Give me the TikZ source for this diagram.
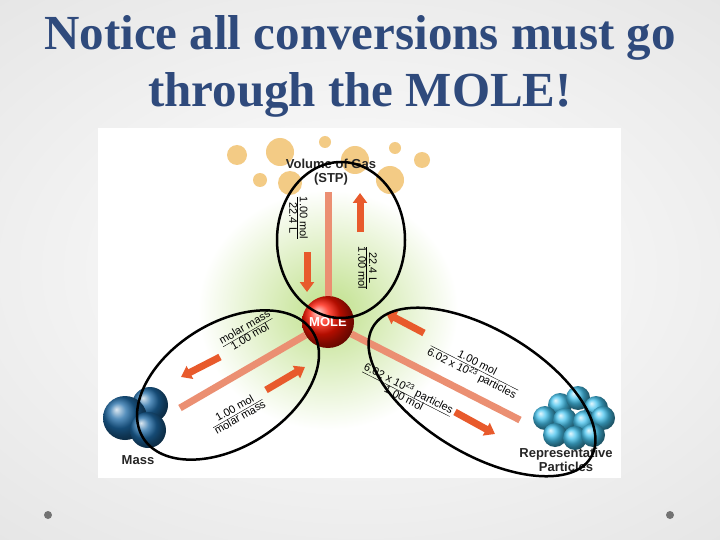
\documentclass[tikz,border=0pt]{standalone}
\usepackage{fontspec}
\setmainfont{Liberation Serif}
\newfontfamily\lab{Liberation Sans}
\usetikzlibrary{arrows.meta}
\newcommand\myfr[2]{\begin{tabular}{@{}c@{}}#1\\[-1pt]\hline #2\end{tabular}}
\begin{document}
\begin{tikzpicture}[x=1pt,y=-1pt,
  bar/.style={draw=salmon,line width=7pt},
  arr/.style={-{Triangle[width=14pt,length=10pt]},draw=arrorange,line width=7pt},
  gas/.style={fill=gasc},
  massb/.style={ball color=massc},
  partb/.style={ball color=partc},
  ring/.style={draw=black,line width=2.5pt},
  lbl/.style={font=\lab\bfseries\fontsize{13}{14}\selectfont,text=black!85,align=center},
  frac/.style={font=\lab\fontsize{11}{11}\selectfont,text=black,inner sep=1pt}]
\definecolor{salmon}{HTML}{EB8F72}
\definecolor{arrorange}{HTML}{E85A2C}
\definecolor{gasc}{HTML}{F3CB85}
\definecolor{massc}{HTML}{1E6AA6}
\definecolor{partc}{HTML}{45C3EE}
\definecolor{titlec}{HTML}{2F4A7C}
\definecolor{greenglow}{HTML}{BFE08A}
\useasboundingbox (0,0) rectangle (720,540);
\shade[inner color=white,outer color=black!10] (-200,-100) rectangle (920,640);
% title
\node[font=\bfseries\fontsize{49}{57}\selectfont,text=titlec,align=center] (title) at (360,66) {Notice all conversions must go\\through the MOLE!};
% image area
\fill[white] (98,128) rectangle (621,478);
\begin{scope}
\clip (98,128) rectangle (621,478);
\shade[inner color=greenglow,outer color=white] (328,310) ellipse (130 and 120);
\end{scope}
% gas bubbles
\foreach \x/\y/\r in {237/155/10,280/152/14,325/142/6,355/160/14,395/148/6,422/160/8,260/180/7,290/183/12,390/180/14}
  \fill[gas] (\x,\y) circle (\r);
% bars
\coordinate (top) at (328,192);
\coordinate (left) at (180,408);
\coordinate (right) at (520,420);
\node[circle,minimum size=52pt,inner sep=0,ball color=red!85!orange] (mole) at (328,322) {};
\draw[bar] (mole) -- (top);
\draw[bar] (mole) -- (left);
\draw[bar] (mole) -- (right);
\node[font=\lab\bfseries\fontsize{13}{13}\selectfont,text=white] at (mole) {MOLE};
% arrows
\coordinate (a1s) at (307,252); \coordinate (a1e) at (307,292);
\coordinate (a2s) at (360,232); \coordinate (a2e) at (360,193);
\coordinate (a3s) at (220,357); \coordinate (a3e) at (181,377);
\coordinate (a4s) at (266,390); \coordinate (a4e) at (305,367);
\coordinate (a5s) at (424,333); \coordinate (a5e) at (386,313);
\coordinate (a6s) at (455,412); \coordinate (a6e) at (495,434);
\foreach \s/\e in {a1s/a1e,a2s/a2e,a3s/a3e,a4s/a4e,a5s/a5e,a6s/a6e}
  \draw[arr] (\s) -- (\e);
% fraction labels
\node[frac,rotate=-90] (f1) at (297,218) {\myfr{1.00 mol}{22.4 L}};
\node[frac,rotate=-90] (f2) at (366,268) {\myfr{22.4 L}{1.00 mol}};
\node[frac,rotate=30] (f3) at (248,333) {\myfr{molar mass}{1.00 mol}};
\node[frac,rotate=30] (f4) at (238,414) {\myfr{1.00 mol}{molar mass}};
\node[frac,rotate=-27] (f5) at (474,369) {\myfr{1.00 mol}{6.02 x 10\textsuperscript{23} particles}};
\node[frac,rotate=-27] (f6) at (406,394) {\myfr{6.02 x 10\textsuperscript{23} particles}{1.00 mol}};
% mass balls
\shade[massb] (150,405) circle (18);
\shade[massb] (125,418) circle (22);
\shade[massb] (148,430) circle (18);
% particles
\foreach \x/\y in {560/405,578/398,596/408,545/418,565/420,585/422,603/418,555/435,575/438,593/435}
  \shade[partb] (\x,\y) circle (12);
% labels
\node[lbl] (gaslbl) at (331,172) {Volume of Gas\\(STP)};
\node[lbl] (masslbl) at (138,460) {Mass};
\node[lbl] (partlbl) at (566,460) {Representative\\Particles};
% rings
\draw[ring] (341,240) ellipse (64 and 78);
\draw[ring,rotate around={32:(228,385)}] (228,385) ellipse (100 and 62);
\draw[ring,rotate around={-31:(482,392)}] (482,392) ellipse (127 and 62);
% bullets
\fill[black!55] (48,515) circle (4);
\fill[black!55] (670,515) circle (4);
\end{tikzpicture}
\end{document}
